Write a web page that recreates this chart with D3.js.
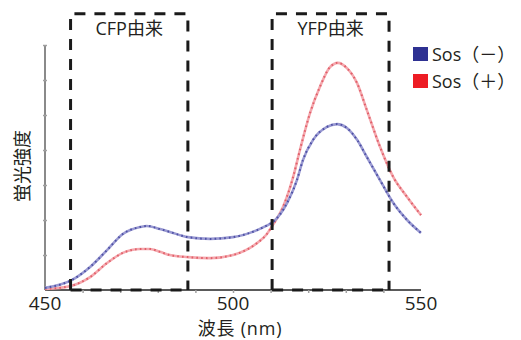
<!DOCTYPE html>
<html><head><meta charset="utf-8">
<script src="https://cdn.jsdelivr.net/npm/d3@7"></script>
<style>
html,body{margin:0;padding:0;background:#fff;}
svg{display:block;}
text{font-family:"Open Sans","Noto Sans CJK JP",sans-serif;fill:#231f20;}
</style></head>
<body>
<script>
// ---- data ----
const blueNm  = [450,457.2,462,466.5,470.7,475.3,477.1,480.6,483.2,488,493.9,500,506.4,508.8,510.6,514.4,517,518.6,521.3,525,527.7,530.3,533,535.6,539.1,542.6,546.3,550];
const blueVal = [0.06,0.29,0.66,1.14,1.6,1.8,1.83,1.74,1.66,1.51,1.46,1.51,1.71,1.83,1.94,2.49,3.14,3.71,4.29,4.66,4.74,4.63,4.29,3.8,3.14,2.49,2.0,1.63];
const redNm   = [450,456.6,462,466.5,470.7,475.3,477.9,480.6,483.2,488,493.9,500,506.4,508.8,510.6,513.3,516,517.8,520.5,523.1,525.8,527.9,530.3,533,535.6,539.1,542.6,546.3,550];
const redVal  = [0.03,0.11,0.37,0.77,1.06,1.17,1.17,1.09,1.0,0.94,0.91,1.0,1.34,1.57,1.86,2.37,3.23,4.0,5.06,5.8,6.37,6.49,6.34,5.91,5.14,4.09,3.23,2.66,2.14];
const seriesNames = ["Sos（－）","Sos（＋）"];
const xTickLabels = [450,500,550];
const xMinorTicks = [460,470,480,490,500,510,520,530,540];
const yTicks = [1,2,3,4,5,6,7];
const boxStarts = [456.8,510.4];
const boxEnds = [488,541.5];
const boxLabels = ["CFP由来","YFP由来"];
const boxTop = 7.89;
const xTitle = "波長 (nm)";
const yTitle = "蛍光強度";

const W=521,H=340;
const svg=d3.select("body").append("svg").attr("width",W).attr("height",H);
const x=d3.scaleLinear().domain([450,550]).range([45,421]);
const y=d3.scaleLinear().domain([0,7]).range([290,45]);

// y axis
const ya=svg.append("g").attr("transform","translate(45,0)")
  .call(d3.axisLeft(y).tickValues(yTicks).tickSize(3).tickFormat(""));
ya.select(".domain").attr("stroke","#8a8a8a").attr("stroke-width",2).attr("d",`M0,${y(0)}V${y(7)}`);
ya.selectAll(".tick line").attr("stroke","#a0a0a0").attr("stroke-width",1.5).attr("x1",-2).attr("x2",2);

// x axis
const xa=svg.append("g").attr("transform","translate(0,290)")
  .call(d3.axisBottom(x).tickValues(xMinorTicks).tickSize(3).tickFormat(""));
xa.select(".domain").attr("stroke","#5a5a5a").attr("stroke-width",2).attr("d",`M${x(450)},0H${x(550)}`);
xa.selectAll(".tick line").attr("stroke","#a0a0a0").attr("stroke-width",1.5);

svg.append("g").selectAll("text").data(xTickLabels).join("text")
  .attr("x",d=>x(d)).attr("y",309.5).attr("text-anchor","middle")
  .attr("font-size",19).text(d=>d);

// titles
svg.append("text").attr("x",240).attr("y",334.6).attr("text-anchor","middle")
  .attr("font-size",18).attr("letter-spacing",0.8).text(xTitle);
svg.append("text").attr("transform","translate(29,166) rotate(-90)").attr("text-anchor","middle")
  .attr("font-size",18).text(yTitle);

// curves
const line=d3.line().x(d=>x(d[0])).y(d=>y(d[1])).curve(d3.curveMonotoneX);
const blueData=blueNm.map((n,i)=>[n,blueVal[i]]);
const redData=redNm.map((n,i)=>[n,redVal[i]]);
[[redData,"#f4a8ae","#d8404c"],[blueData,"#9a9ad2","#2e3192"]].forEach(([d,light,dark])=>{
  svg.append("path").attr("d",line(d)).attr("fill","none").attr("stroke",light).attr("stroke-width",2.6);
  svg.append("path").attr("d",line(d)).attr("fill","none").attr("stroke",dark).attr("stroke-width",2)
    .attr("stroke-dasharray","1.6,3.2").attr("opacity",0.7);
});

// dashed boxes
boxStarts.forEach((s,i)=>{
  svg.append("path")
    .attr("d",`M${x(s)},${y(0)}V${y(boxTop)}H${x(boxEnds[i])}V${y(0)}`)
    .attr("fill","none").attr("stroke","#1a1a1a").attr("stroke-width",3).attr("stroke-dasharray","11,9");
  svg.append("path")
    .attr("d",`M${x(s)},${y(0)}H${x(boxEnds[i])}`)
    .attr("fill","none").attr("stroke","#1a1a1a").attr("stroke-width",3).attr("stroke-dasharray","11,9");
  svg.append("text").attr("x",(x(s)+x(boxEnds[i]))/2).attr("y",35).attr("text-anchor","middle")
    .attr("font-size",18).text(boxLabels[i]);
});

// legend
const legColors=["#2e3192","#ed1c24"];
seriesNames.forEach((n,i)=>{
  svg.append("rect").attr("x",413).attr("y",47+i*27).attr("width",15).attr("height",14).attr("fill",legColors[i]);
  svg.append("text").attr("x",432).attr("y",61+i*27).attr("font-size",18).text(n);
});
</script>
</body></html>
